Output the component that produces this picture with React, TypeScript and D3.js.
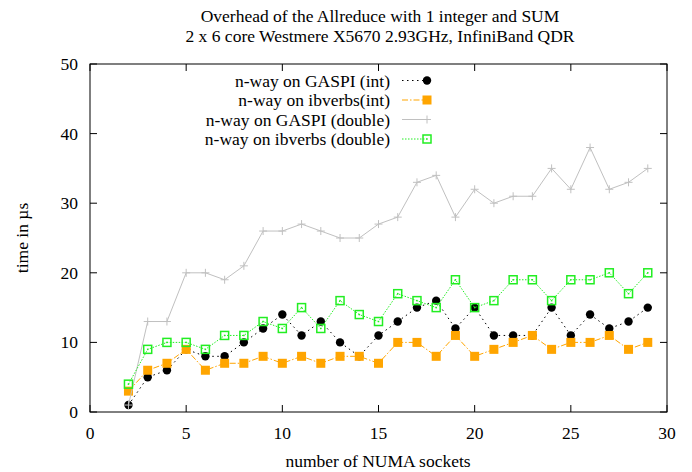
import React from "react";
import * as d3 from "d3";

const sockets = [2, 3, 4, 5, 6, 7, 8, 9, 10, 11, 12, 13, 14, 15, 16, 17, 18, 19, 20, 21, 22, 23, 24, 25, 26, 27, 28, 29];
const gaspiInt = [1, 5, 6, 9, 8, 8, 10, 12, 14, 11, 13, 10, 8, 11, 13, 15, 16, 12, 15, 11, 11, 11, 15, 11, 14, 12, 13, 15];
const ibverbsInt = [3, 6, 7, 9, 6, 7, 7, 8, 7, 8, 7, 8, 8, 7, 10, 10, 8, 11, 8, 9, 10, 11, 9, 10, 10, 11, 9, 10];
const gaspiDouble = [1, 13, 13, 20, 20, 19, 21, 26, 26, 27, 26, 25, 25, 27, 28, 33, 34, 28, 32, 30, 31, 31, 35, 32, 38, 32, 33, 35];
const ibverbsDouble = [4, 9, 10, 10, 9, 11, 11, 13, 12, 15, 12, 16, 14, 13, 17, 16, 15, 19, 15, 16, 19, 19, 16, 19, 19, 20, 17, 20];

const xTicks = [0, 5, 10, 15, 20, 25, 30];
const yTicks = [0, 10, 20, 30, 40, 50];

const titleLines = [
  "Overhead of the Allreduce with 1 integer and SUM",
  "2 x 6 core Westmere X5670 2.93GHz, InfiniBand QDR",
];

type Marker = "circle" | "fsquare" | "plus" | "osquare";
interface Series {
  name: string;
  values: number[];
  color: string;
  dash: string;
  marker: Marker;
}

const series: Series[] = [
  { name: "n-way on GASPI (int)", values: gaspiInt, color: "#000000", dash: "1.5,3.5", marker: "circle" },
  { name: "n-way on ibverbs(int)", values: ibverbsInt, color: "#ffa500", dash: "6,2,1.5,2", marker: "fsquare" },
  { name: "n-way on GASPI (double)", values: gaspiDouble, color: "#c0c0c0", dash: "", marker: "plus" },
  { name: "n-way on ibverbs (double)", values: ibverbsDouble, color: "#22ee22", dash: "1.5,1.5", marker: "osquare" },
];

const W = 692;
const H = 472;
const L = 90;
const R = 667;
const T = 64;
const B = 412;
const FONT = "'Liberation Serif', 'Times New Roman', 'DejaVu Serif', serif";
const FS = 17.5;

function MarkerShape({ m, x, y, color }: { m: Marker; x: number; y: number; color: string }) {
  if (m === "circle") return <circle cx={x} cy={y} r={4.2} fill={color} />;
  if (m === "fsquare") return <rect x={x - 4.5} y={y - 4.5} width={9} height={9} fill={color} />;
  if (m === "plus")
    return (
      <path d={`M${x - 4},${y}H${x + 4}M${x},${y - 4}V${y + 4}`} stroke={color} strokeWidth={1} fill="none" />
    );
  return (
    <g>
      <rect x={x - 4} y={y - 4} width={8} height={8} fill="none" stroke={color} strokeWidth={1.5} />
      <rect x={x - 0.75} y={y - 0.75} width={1.5} height={1.5} fill={color} />
    </g>
  );
}

export default function App() {
  const x = d3.scaleLinear().domain([0, 30]).range([L, R]);
  const y = d3.scaleLinear().domain([0, 50]).range([B, T]);
  const line = d3
    .line<[number, number]>()
    .x((d) => x(d[0]))
    .y((d) => y(d[1]));

  const legendTop = 80.5;
  const legendStep = 19.5;

  return (
    <svg
      width={W}
      height={H}
      style={{ position: "absolute", left: 0, top: 0, background: "#fff", fontFamily: FONT }}
    >
      <rect width={W} height={H} fill="#fff" />
      {titleLines.map((t, i) => (
        <text key={i} x={380} y={22 + i * 19.6} textAnchor="middle" fontSize={FS} fill="#000">
          {t}
        </text>
      ))}

      {/* ticks on all four sides, pointing inward */}
      {xTicks.map((t) => (
        <g key={"x" + t}>
          <line x1={x(t)} x2={x(t)} y1={B} y2={B - 7} stroke="#000" />
          <line x1={x(t)} x2={x(t)} y1={T} y2={T + 7} stroke="#000" />
          <text x={x(t)} y={B + 27} textAnchor="middle" fontSize={FS}>
            {t}
          </text>
        </g>
      ))}
      {yTicks.map((t) => (
        <g key={"y" + t}>
          <line x1={L} x2={L + 7} y1={y(t)} y2={y(t)} stroke="#000" />
          <line x1={R} x2={R - 7} y1={y(t)} y2={y(t)} stroke="#000" />
          <text x={L - 12} y={y(t) + 6} textAnchor="end" fontSize={FS}>
            {t}
          </text>
        </g>
      ))}

      <text x={378} y={467} textAnchor="middle" fontSize={FS}>
        number of NUMA sockets
      </text>
      <text transform={`translate(28,238) rotate(-90)`} textAnchor="middle" fontSize={FS}>
        time in µs
      </text>

      {/* data series */}
      {series.map((s) => {
        const pts: [number, number][] = sockets.map((k, i) => [k, s.values[i]]);
        return (
          <g key={s.name}>
            <path
              d={line(pts) || ""}
              fill="none"
              stroke={s.color}
              strokeWidth={1}
              strokeDasharray={s.dash || undefined}
            />
            {pts.map((p, i) => (
              <MarkerShape key={i} m={s.marker} x={x(p[0])} y={y(p[1])} color={s.color} />
            ))}
          </g>
        );
      })}

      {/* legend */}
      {series.map((s, i) => {
        const ly = legendTop + i * legendStep;
        return (
          <g key={"lg" + i}>
            <text x={390} y={ly + 6} textAnchor="end" fontSize={FS}>
              {s.name}
            </text>
            <line x1={402} x2={427} y1={ly} y2={ly} stroke={s.color} strokeDasharray={s.dash || undefined} />
            <MarkerShape m={s.marker} x={427} y={ly} color={s.color} />
          </g>
        );
      })}

      <rect x={L} y={T} width={R - L} height={B - T} fill="none" stroke="#000" strokeWidth={1} />
    </svg>
  );
}
